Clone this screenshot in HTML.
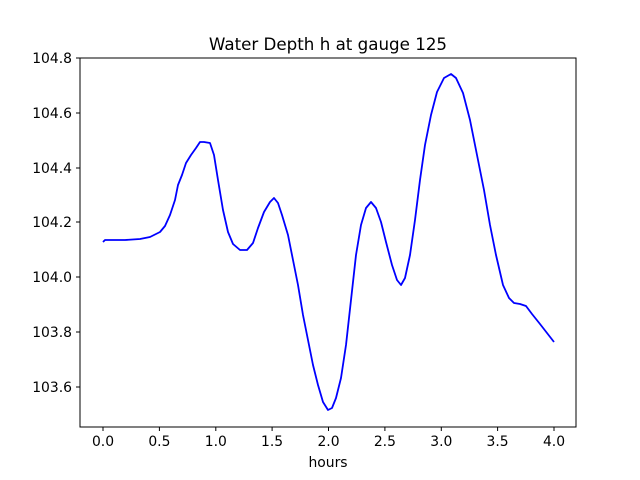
<!DOCTYPE html>
<html><head><meta charset="utf-8"><style>body{margin:0;background:#fff}svg{display:block;font-family:"DejaVu Sans",sans-serif}</style></head>
<body>
<svg width="640" height="480" viewBox="0 0 640 480" xmlns="http://www.w3.org/2000/svg">
<rect width="640" height="480" fill="#fff"/>
<text x="328" y="50" font-size="16.7" text-anchor="middle">Water Depth h at gauge 125</text>
<polyline fill="none" stroke="#0000ff" stroke-width="1.8" stroke-linejoin="round" points="103,242 105,240 125,240 140,239 150,237 160,232 165,226 170,215 175,200 178,185 182,175 186,163 191,155 196,148 200,142 204,142 210,143 214,155 218,180 223,210 228,232 233,244 240,250 247,250 253,243 258,228 264,212 270,202 274,198 278,203 282,215 288,235 293,260 298,285 303,315 308,340 313,365 318,385 323,402 328,410 332,408 336,398 341,378 346,345 351,300 356,255 361,225 366,208 371,202 376,208 381,222 386,242 392,265 397,280 401,285 405,278 410,255 415,220 420,180 425,145 431,115 437,92 444,78 451,74 456,78 463,93 470,120 477,155 484,190 490,225 496,255 503,285 509,298 514,303 520,304 526,306 532,314 540,324 547,333 554,342"/>
<rect x="80" y="58" width="496" height="369" fill="none" stroke="#000" stroke-width="1"/>
<g stroke="#000" stroke-width="1">
<line x1="103" y1="427" x2="103" y2="431"/><line x1="159.4" y1="427" x2="159.4" y2="431"/><line x1="215.8" y1="427" x2="215.8" y2="431"/><line x1="272.1" y1="427" x2="272.1" y2="431"/><line x1="328.5" y1="427" x2="328.5" y2="431"/><line x1="384.9" y1="427" x2="384.9" y2="431"/><line x1="441.3" y1="427" x2="441.3" y2="431"/><line x1="497.6" y1="427" x2="497.6" y2="431"/><line x1="554" y1="427" x2="554" y2="431"/>
<line x1="76" y1="58" x2="80" y2="58"/><line x1="76" y1="113" x2="80" y2="113"/><line x1="76" y1="168" x2="80" y2="168"/><line x1="76" y1="222" x2="80" y2="222"/><line x1="76" y1="277" x2="80" y2="277"/><line x1="76" y1="332" x2="80" y2="332"/><line x1="76" y1="387" x2="80" y2="387"/>
</g>
<g font-size="13.9" text-anchor="middle">
<text x="103" y="446">0.0</text><text x="159.4" y="446">0.5</text><text x="215.8" y="446">1.0</text><text x="272.1" y="446">1.5</text><text x="328.5" y="446">2.0</text><text x="384.9" y="446">2.5</text><text x="441.3" y="446">3.0</text><text x="497.6" y="446">3.5</text><text x="554" y="446">4.0</text>
<text x="328" y="467">hours</text>
</g>
<g font-size="13.9" text-anchor="end">
<text x="72" y="63">104.8</text><text x="72" y="118">104.6</text><text x="72" y="173">104.4</text><text x="72" y="227">104.2</text><text x="72" y="282">104.0</text><text x="72" y="337">103.8</text><text x="72" y="392">103.6</text>
</g>
</svg>
</body></html>
